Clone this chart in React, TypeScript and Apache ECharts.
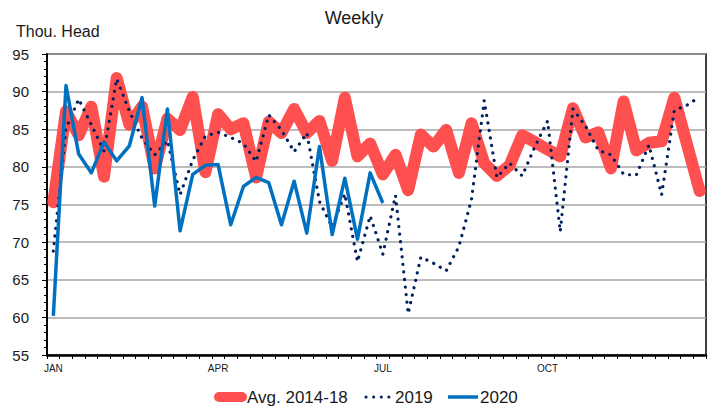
import React, { useEffect, useRef } from "react";
import * as echarts from "echarts";

// Week categories (52 weeks), month labels shown at specific weeks
const weeks: string[] = Array.from({ length: 52 }, (_, i) => `W${i + 1}`);
const monthNames: string[] = ["JAN", "APR", "JUL", "OCT"];
const monthWeekIdx: number[] = [0, 13, 26, 39];

const yMin = 55;
const yMax = 95;
const yStep = 5;

const seriesNames: string[] = ["Avg. 2014-18", "2019", "2020"];

const avg1418: number[] = [
  75.3, 87.4, 84.2, 88.0, 78.7, 91.8, 85.6, 88.0, 79.8, 86.4, 84.9, 89.3, 79.3,
  87.0, 85.0, 85.8, 78.6, 86.0, 84.5, 87.7, 84.5, 86.1, 80.8, 89.2, 81.4, 83.1,
  79.0, 81.6, 76.9, 84.3, 82.7, 84.9, 79.2, 85.8, 80.5, 78.8, 80.2, 84.2, 83.3,
  82.3, 81.4, 87.8, 83.9, 84.6, 79.8, 88.7, 82.2, 83.2, 83.4, 89.2, 83.0, 76.8,
];

const y2019: number[] = [
  68.8, 85.1, 89.0, 85.6, 82.1, 91.7, 87.4, 83.8, 81.6, 83.5, 76.3, 80.9, 84.1,
  84.6, 83.9, 83.1, 80.7, 86.9, 84.9, 82.0, 84.5, 75.4, 72.0, 76.4, 67.4, 73.5,
  68.4, 76.2, 60.5, 68.0, 67.2, 66.2, 69.4, 75.7, 88.8, 78.6, 80.5, 78.8, 82.7,
  86.1, 71.4, 87.7, 85.4, 82.2, 81.6, 79.0, 78.9, 82.9, 76.3, 87.5, 88.2, 89.3,
];

const y2020: number[] = [
  60.2, 90.8, 81.7, 79.2, 83.3, 80.8, 82.8, 89.2, 74.8, 87.7, 71.5, 79.0, 80.2,
  80.3, 72.3, 77.4, 78.6, 77.9, 72.3, 78.1, 71.2, 82.7, 71.0, 78.5, 70.4, 79.2,
  75.2,
];

const RED = "#FF5050";
const NAVY = "#002060";
const BLUE = "#0070C0";
const FONT = "'Liberation Sans', Arial, sans-serif";
const TXT = "#1a1a1a";

export default function App() {
  const ref = useRef<HTMLDivElement>(null);

  useEffect(() => {
    if (!ref.current) return;
    const chart = echarts.init(ref.current, undefined, { renderer: "svg" });
    const dotDash = [0.1, 7.5];
    const legY = 397;
    chart.setOption({
      animation: false,
      backgroundColor: "#fff",
      title: {
        text: "Weekly",
        left: "center",
        top: 4,
        textStyle: { fontFamily: FONT, fontSize: 18, fontWeight: "normal", color: TXT },
      },
      grid: {
        left: 47,
        right: 2,
        top: 54,
        bottom: 54,
        show: true,
        borderColor: "#000",
        borderWidth: 1.5,
        backgroundColor: "transparent",
      },
      xAxis: {
        type: "category",
        data: weeks,
        boundaryGap: true,
        axisLine: { show: true, lineStyle: { color: "#000", width: 2.5 } },
        axisTick: { show: true, interval: 0, length: 4, lineStyle: { color: "#000", width: 1 } },
        axisLabel: {
          interval: (idx: number) => monthWeekIdx.indexOf(idx) >= 0,
          formatter: (_v: string, idx: number) => {
            const k = monthWeekIdx.indexOf(idx);
            return k >= 0 ? monthNames[k] : "";
          },
          margin: 8,
          fontFamily: FONT,
          fontSize: 10,
          color: TXT,
        },
        splitLine: { show: false },
      },
      yAxis: {
        type: "value",
        min: yMin,
        max: yMax,
        interval: yStep,
        axisLine: { show: true, lineStyle: { color: "#000", width: 2 } },
        axisTick: { show: true, length: 5, lineStyle: { color: "#000" } },
        minorTick: { show: true, splitNumber: 5, length: 3, lineStyle: { color: "#000" } },
        axisLabel: { margin: 18, fontFamily: FONT, fontSize: 15, color: TXT },
        splitLine: { show: true, lineStyle: { color: "#A6A6A6", width: 1.5 } },
      },
      series: [
        {
          name: seriesNames[0],
          type: "line",
          data: avg1418,
          symbol: "none",
          lineStyle: { color: RED, width: 12, cap: "round", join: "round" },
          z: 1,
        },
        {
          name: seriesNames[1],
          type: "line",
          data: y2019,
          symbol: "none",
          lineStyle: { color: NAVY, width: 3.2, type: dotDash, cap: "round", join: "round" },
          z: 2,
        },
        {
          name: seriesNames[2],
          type: "line",
          data: y2020,
          symbol: "none",
          lineStyle: { color: BLUE, width: 3.5, join: "round" },
          z: 3,
        },
      ],
      graphic: [
        {
          type: "text",
          left: 16,
          top: 23,
          style: { text: "Thou. Head", fontFamily: FONT, fontSize: 16, fill: TXT },
        },
        {
          type: "line",
          shape: { x1: 219, y1: legY, x2: 242, y2: legY },
          style: { stroke: RED, lineWidth: 10, lineCap: "round" },
        },
        {
          type: "text",
          x: 247,
          y: legY,
          style: { text: seriesNames[0], fontFamily: FONT, fontSize: 17, fill: TXT, textVerticalAlign: "middle" },
        },
        {
          type: "line",
          shape: { x1: 366, y1: legY, x2: 393, y2: legY },
          style: { stroke: NAVY, lineWidth: 3, lineCap: "round", lineDash: dotDash },
        },
        {
          type: "text",
          x: 395,
          y: legY,
          style: { text: seriesNames[1], fontFamily: FONT, fontSize: 17, fill: TXT, textVerticalAlign: "middle" },
        },
        {
          type: "line",
          shape: { x1: 448, y1: legY, x2: 478, y2: legY },
          style: { stroke: BLUE, lineWidth: 3.5 },
        },
        {
          type: "text",
          x: 480,
          y: legY,
          style: { text: seriesNames[2], fontFamily: FONT, fontSize: 17, fill: TXT, textVerticalAlign: "middle" },
        },
      ],
    });
    return () => chart.dispose();
  }, []);

  return <div ref={ref} style={{ width: 708, height: 409, position: "absolute", left: 0, top: 0 }} />;
}
